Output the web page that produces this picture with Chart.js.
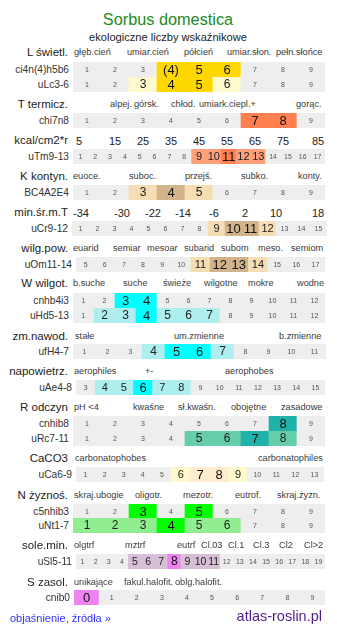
<!DOCTYPE html>
<html>
<head>
<meta charset="utf-8">
<script src="https://cdn.jsdelivr.net/npm/chart.js@4/dist/chart.umd.min.js"></script>
<style>
  html, body { margin: 0; padding: 0; background: #fff; }
  #page { position: relative; width: 337px; height: 634px; overflow: hidden;
          font-family: "Liberation Sans", Arial, sans-serif; }
  #page div.t { position: absolute; white-space: nowrap; line-height: 1; transform: translateY(-50%); }
  #page canvas { position: absolute; }
</style>
</head>
<body>
<div id="page"></div>
<script>
// cell labels for each indicator row
const cells9 = ['1', '2', '3', '4', '5', '6', '7', '8', '9'];
const cellsLight = ['1', '2', '3', '(4)', '5', '6', '7', '8', '9'];
const cells17 = ['1', '2', '3', '4', '5', '6', '7', '8', '9', '10', '11', '12', '13', '14', '15', '16', '17'];
const cells15 = ['1', '2', '3', '4', '5', '6', '7', '8', '9', '10', '11', '12', '13', '14', '15'];
const cells5to17 = ['5', '6', '7', '8', '9', '10', '11', '12', '13', '14', '15', '16', '17'];
const cells12 = ['1', '2', '3', '4', '5', '6', '7', '8', '9', '10', '11', '12'];
const cells11 = ['1', '2', '3', '4', '5', '6', '7', '8', '9', '10', '11'];
const cells3to15 = ['3', '4', '5', '6', '7', '8', '9', '10', '11', '12', '13', '14', '15'];
const cells13 = ['1', '2', '3', '4', '5', '6', '7', '8', '9', '10', '11', '12', '13'];
const cells19 = ['1', '2', '3', '4', '5', '6', '7', '8', '9', '10', '11', '12', '13', '14', '15', '16', '17', '18', '19'];
const cells0to9 = ['0', '1', '2', '3', '4', '5', '6', '7', '8', '9'];

// highlight level per cell: 0 none, 1 range, 2 main value
const lightCi = [0, 0, 0, 2, 2, 2, 0, 0, 0];
const lightUlc = [0, 0, 1, 2, 2, 1, 0, 0, 0];
const tempChi = [0, 0, 0, 0, 0, 0, 2, 2, 0];
const tempUtm = [0, 0, 0, 0, 0, 0, 0, 0, 1, 1, 2, 1, 1, 0, 0, 0, 0];
const contBc = [0, 0, 1, 2, 1, 0, 0, 0, 0];
const coldUcr = [0, 0, 0, 0, 0, 0, 0, 0, 1, 2, 2, 1, 0, 0, 0];
const humUom = [0, 0, 0, 0, 0, 0, 1, 2, 2, 1, 0, 0, 0];
const moistCn = [0, 0, 2, 2, 0, 0, 0, 0, 0, 0, 0, 0];
const moistUhd = [0, 1, 1, 2, 1, 1, 1, 0, 0, 0, 0, 0];
const varUfh = [0, 0, 0, 1, 2, 2, 1, 0, 0, 0, 0];
const aerUae = [0, 1, 1, 2, 1, 1, 0, 0, 0, 0, 0, 0, 0];
const reactCn = [0, 0, 0, 0, 0, 0, 0, 2, 0];
const reactUrc = [0, 0, 0, 0, 1, 1, 2, 1, 0];
const limeUca = [0, 0, 0, 0, 0, 1, 2, 2, 1, 0, 0, 0, 0];
const nutrCn = [0, 0, 2, 0, 2, 0, 0, 0, 0];
const nutrUnt = [1, 1, 1, 2, 1, 1, 0, 0, 0];
const saltUsl = [0, 0, 0, 0, 1, 1, 1, 2, 1, 1, 1, 0, 0, 0, 0, 0, 0, 0, 0];
const salinCn = [2, 0, 0, 0, 0, 0, 0, 0, 0, 0];

// scale captions above the rows
const lightScale = ['głęb.cień', 'umiar.cień', 'półcień', 'umiar.słon.', 'pełn.słońce'];
const tempScale = ['alpej.', 'górsk.', 'chłod.', 'umiark.', 'ciepl.+', 'gorąc.'];
const kcalTicks = ['5', '15', '25', '35', '45', '55', '65', '75', '85'];
const contScale = ['euoce.', 'suboc.', 'przejś.', 'subko.', 'konty.'];
const coldTicks = ['-34', '-30', '-22', '-14', '-6', '2', '10', '18'];
const humScale = ['euarid', 'semiar', 'mesoar', 'subarid', 'subom', 'meso.', 'semiom'];
const moistScale = ['b.suche', 'suche', 'świeże', 'wilgotne', 'mokre', 'wodne'];
const varScale = ['stałe', 'um.zmienne', 'b.zmienne'];
const aerScale = ['aerophiles', '+-', 'aerophobes'];
const reactScale = ['pH <4', 'kwaśne', 'sł.kwaśn.', 'obojętne', 'zasadowe'];
const limeScale = ['carbonatophobes', 'carbonatophiles'];
const nutrScale = ['skraj.ubogie', 'oligotr.', 'mezotr.', 'eutrof.', 'skraj.żyzn.'];
const saltScale = ['olgtrf', 'mztrf', 'eutrf', 'Cl.03', 'Cl.1', 'Cl.3', 'Cl2', 'Cl>2'];
const salinScale = ['unikające', 'fakul.halofit.', 'oblg.halofit.'];

const GREY = '#eeeeee';
const palette = {
  L: ['#fffacd', '#ffd700'],
  T: ['#ffa07a', '#ff7f50'],
  K: ['#f5deb3', '#d2b48c'],
  W: ['#afeeee', '#00ffff'],
  R: ['#66cdaa', '#20b2aa'],
  Ca: ['#fffacd', '#ffebcd'],
  N: ['#90ee90', '#00ff00'],
  S: ['#d8bfd8', '#ee82ee']
};

const page = document.getElementById('page');
const FONT = '"Liberation Sans", Arial, sans-serif';

function txt(s, x, y, size, color, align) {
  const d = document.createElement('div');
  d.className = 't';
  d.textContent = s;
  d.style.fontSize = size + 'px';
  d.style.color = color;
  d.style.top = y + 'px';
  if (align === 'right') d.style.right = (337 - x) + 'px';
  else if (align === 'center') { d.style.left = x + 'px'; d.style.transform = 'translate(-50%,-50%)'; }
  else d.style.left = x + 'px';
  page.appendChild(d);
}

function heading(s, y) { txt(s, 68, y, 11.5, '#222', 'right'); }
function captions(list, xs, y) { list.forEach((s, i) => txt(s, xs[i], y, 9.2, '#3a3a3a', 'left')); }
function ticks(list, xs, y) { list.forEach((s, i) => txt(s, xs[i], y, 11, '#222', 'center')); }

// numbers written into the cells
const cellText = {
  id: 'cellText',
  afterDatasetsDraw(chart) {
    const ds = chart.data.datasets[0];
    const ctx = chart.ctx;
    const meta = chart.getDatasetMeta(0);
    const w = chart.chartArea.width / meta.data.length;
    ctx.save();
    ctx.textAlign = 'center';
    ctx.textBaseline = 'middle';
    meta.data.forEach((bar, i) => {
      const lvl = ds.levels[i];
      let size = 7, color = '#555';
      if (lvl === 2) { size = w < 14 ? 12 : 13; color = '#111'; }
      else if (lvl === 1) { size = w >= 21 ? 12 : (w < 14 ? 10.5 : 11); color = '#222'; }
      ctx.font = size + 'px ' + FONT;
      ctx.fillStyle = color;
      ctx.fillText(chart.data.labels[i], bar.x, (bar.y + bar.base) / 2 + 0.5);
    });
    ctx.restore();
  }
};

function row(name, labels, levels, colors, x, y, w, labelRight) {
  txt(name, labelRight || 69, y + 7.5, 10.2, '#333', 'right');
  const c = document.createElement('canvas');
  c.width = w; c.height = 15;
  c.style.left = x + 'px'; c.style.top = y + 'px';
  page.appendChild(c);
  new Chart(c, {
    type: 'bar',
    data: {
      labels: labels,
      datasets: [{
        data: labels.map(() => 1),
        levels: levels,
        backgroundColor: levels.map(l => l === 0 ? GREY : colors[l - 1]),
        borderWidth: 0,
        barPercentage: 1,
        categoryPercentage: 1
      }]
    },
    options: {
      responsive: false,
      animation: false,
      events: [],
      layout: { padding: 0 },
      plugins: { legend: { display: false }, tooltip: { enabled: false } },
      scales: {
        x: { display: false },
        y: { display: false, min: 0, max: 1 }
      }
    },
    plugins: [cellText]
  });
}

txt('Sorbus domestica', 168, 19, 16.3, '#228b22', 'center');
txt('ekologiczne liczby wskaźnikowe', 168, 38, 11.1, '#222', 'center');

heading('L świetl.', 53);
captions(lightScale, [74, 127, 184, 227, 276], 53);
row('ci4n(4)h5b6', cellsLight, lightCi, palette.L, 73, 62, 252);
row('uLc3-6', cells9, lightUlc, palette.L, 73, 77, 252);

heading('T termicz.', 105);
captions(tempScale, [110, 134, 171, 199, 229, 296], 105);
row('chi7n8', cells9, tempChi, palette.T, 73, 113, 252);

heading('kcal/cm2*r', 141);
ticks(kcalTicks, [79, 115, 143, 171, 199, 227, 255, 283, 318], 141);
row('uTm9-13', cells17, tempUtm, palette.T, 73, 149, 252);

heading('K kontyn.', 177);
captions(contScale, [73, 129, 185, 241, 298], 177);
row('BC4A2E4', cells9, contBc, palette.K, 73, 185, 252);

heading('min.śr.m.T', 213);
ticks(coldTicks, [81, 122, 153, 183, 214, 245, 276, 318], 213);
row('uCr9-12', cells15, coldUcr, palette.K, 72, 221, 255, 68);

heading('wilg.pow.', 249);
captions(humScale, [73, 113, 147, 184, 221, 258, 291], 249);
row('uOm11-14', cells5to17, humUom, palette.K, 76, 257, 249, 72);

heading('W wilgot.', 284);
captions(moistScale, [73, 123, 163, 204, 248, 297], 284);
row('cnhb4i3', cells12, moistCn, palette.W, 73, 293, 252);
row('uHd5-13', cells12, moistUhd, palette.W, 73, 308, 252);

heading('zm.nawod.', 337);
captions(varScale, [75, 174, 279], 337);
row('ufH4-7', cells11, varUfh, palette.W, 73, 344, 253);

heading('napowietrz.', 372);
captions(aerScale, [74, 145, 225], 372);
row('uAe4-8', cells3to15, aerUae, palette.W, 76, 380, 249, 72);

heading('R odczyn', 408);
captions(reactScale, [74, 133, 178, 231, 281], 408);
row('cnhib8', cells9, reactCn, palette.R, 73, 416, 252);
row('uRc7-11', cells9, reactUrc, palette.R, 73, 431, 252);

heading('CaCO3', 459);
captions(limeScale, [75, 258], 459);
row('uCa6-9', cells13, limeUca, palette.Ca, 76, 467, 248, 72);

heading('N żyznoś.', 496);
captions(nutrScale, [74, 135, 183, 235, 277], 496);
row('c5nhib3', cells9, nutrCn, palette.N, 73, 504, 252);
row('uNt1-7', cells9, nutrUnt, palette.N, 73, 518, 252);

heading('sole.min.', 546);
captions(saltScale, [74, 125, 177, 201, 228, 253, 279, 304], 546);
row('uSl5-11', cells19, saltUsl, palette.S, 76, 554, 249, 72);

heading('S zasol.', 583);
captions(salinScale, [74, 124, 175], 583);
row('cnib0', cells0to9, salinCn, palette.S, 74, 590, 251, 70);

txt('objaśnienie, źródła »', 10, 618, 11, '#3333ff', 'left');
txt('atlas-roslin.pl', 322, 616, 14.5, '#551a8b', 'right');
</script>
</body>
</html>
